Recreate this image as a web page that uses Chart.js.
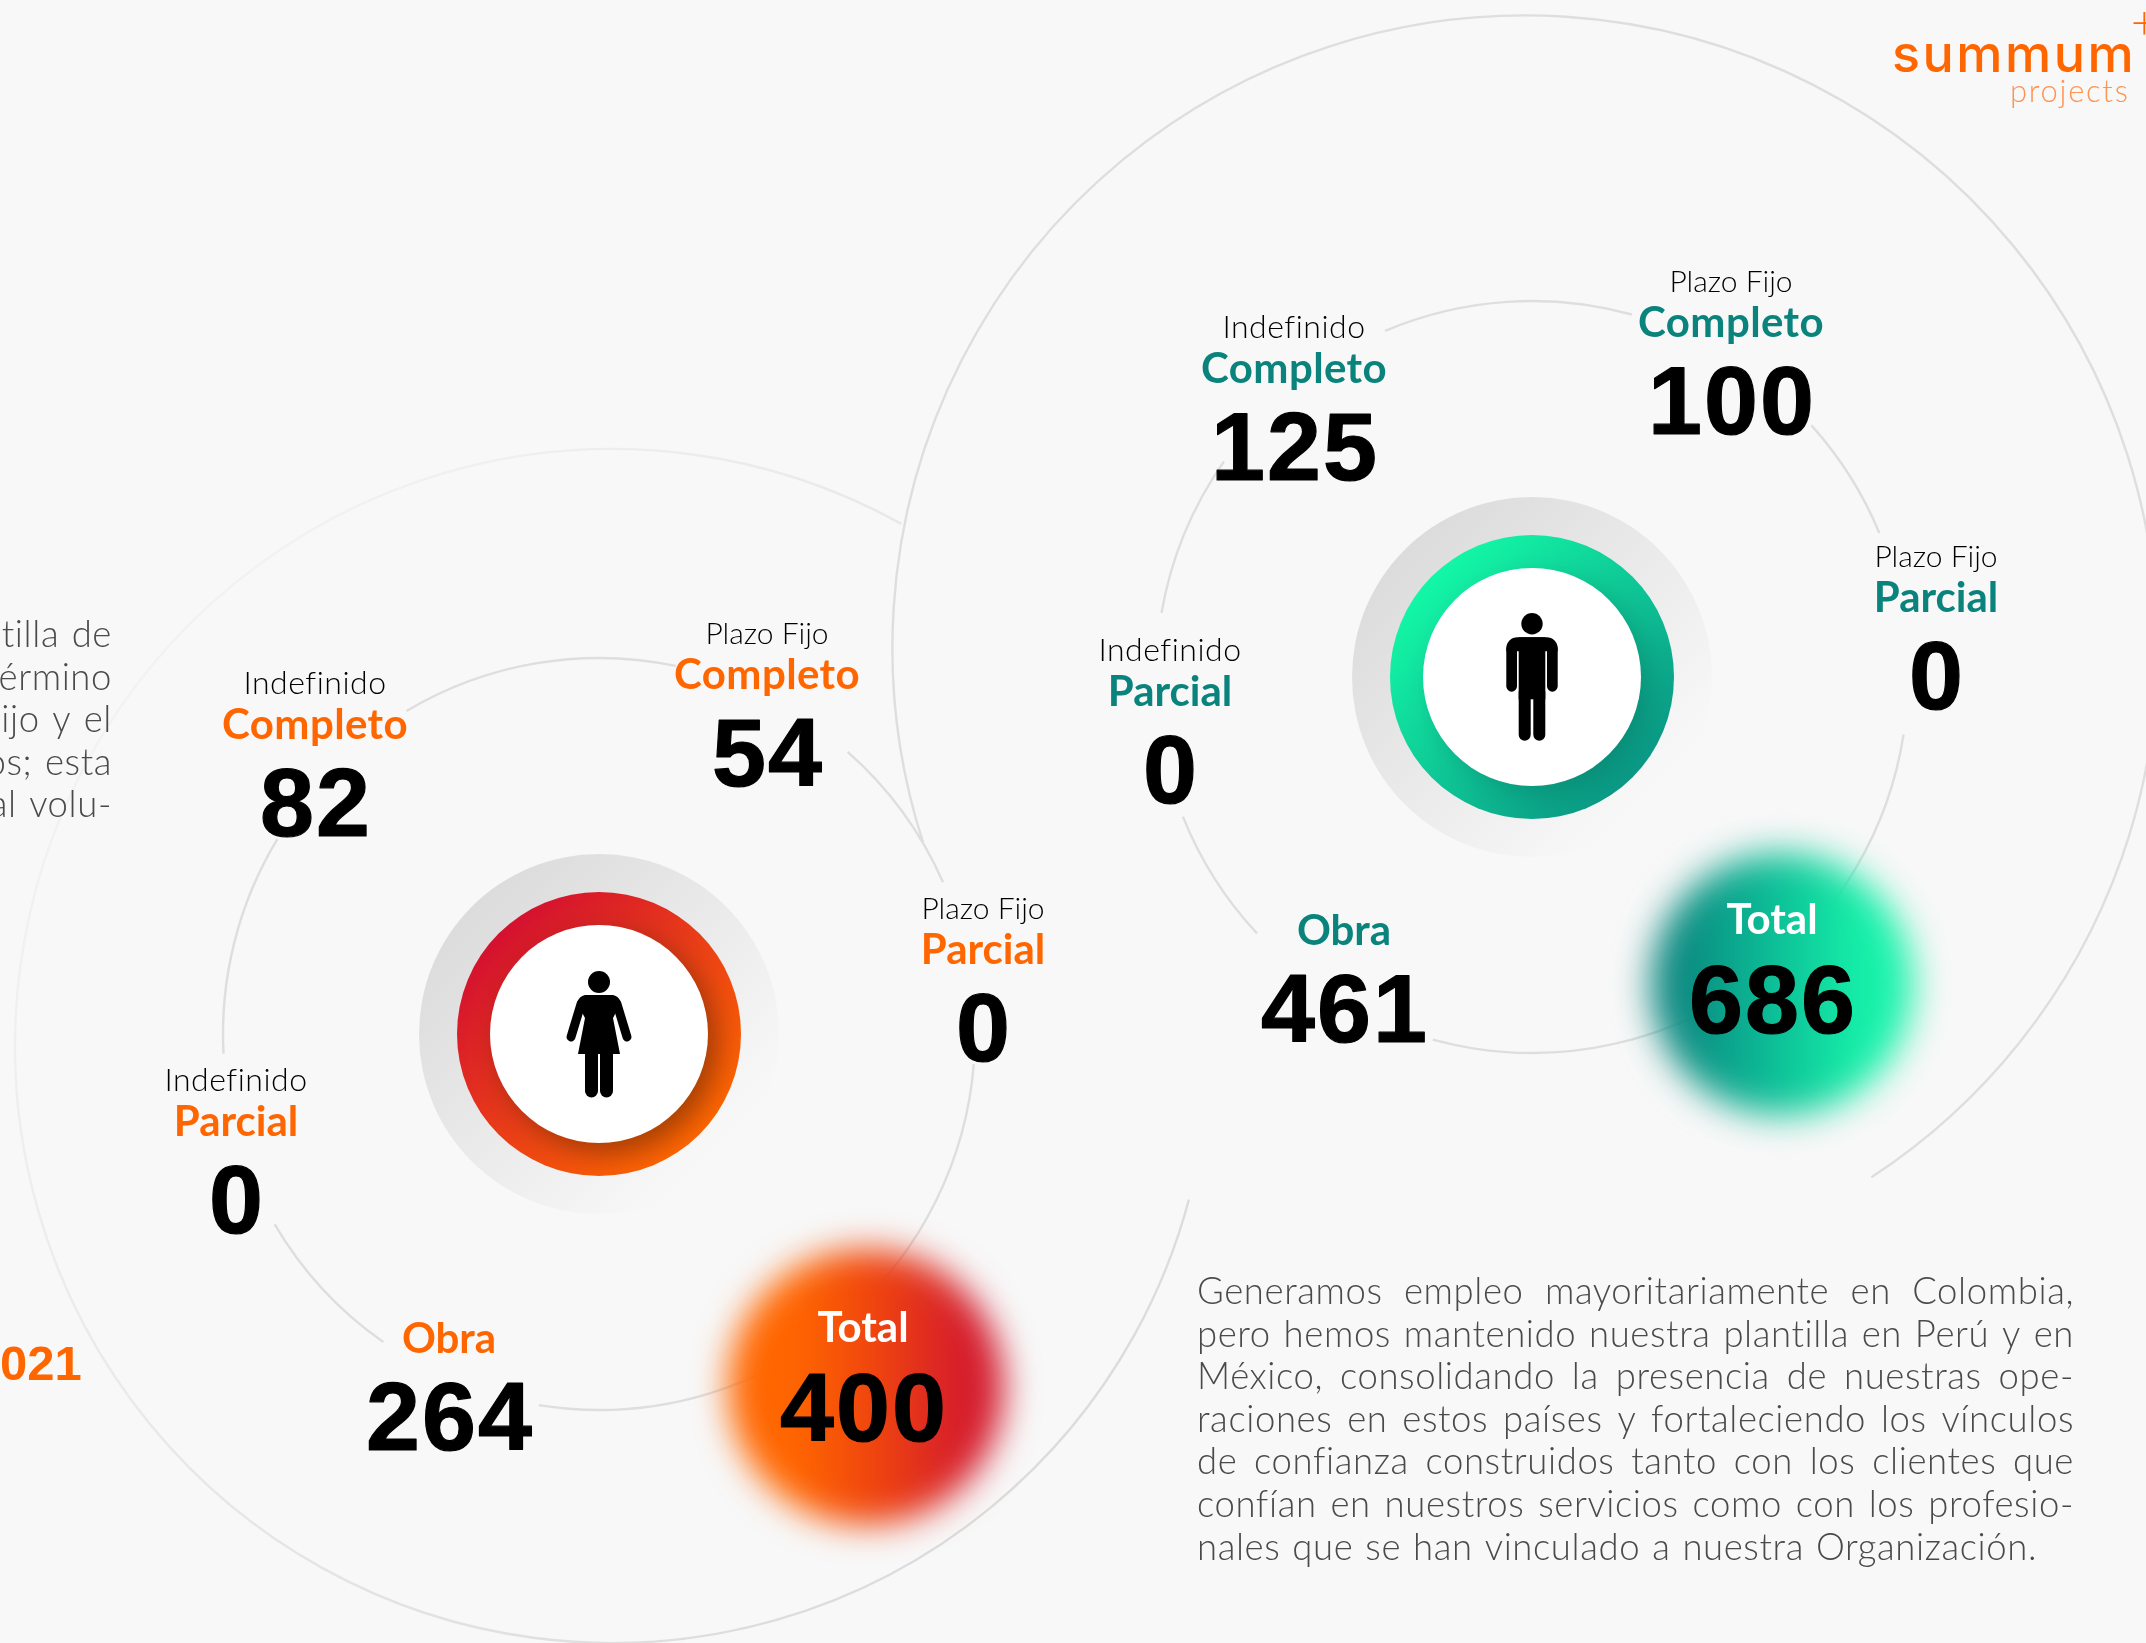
<!DOCTYPE html>
<html lang="es">
<head>
<meta charset="utf-8">
<title>Plantilla 2021</title>
<script src="https://cdn.jsdelivr.net/npm/chart.js@4"></script>
<style>
  html, body { margin: 0; padding: 0; background: #f8f8f8; overflow: hidden; }
  canvas { display: block; }
</style>
</head>
<body>
<canvas id="chart" width="2146" height="1643"></canvas>
<script>
// Data
const contractLabels = ['Indefinido', 'Plazo Fijo', 'Plazo Fijo', 'Indefinido', '', '']
const typeLabels = ['Completo', 'Completo', 'Parcial', 'Parcial', 'Obra', 'Total']
const womenValues = [82, 54, 0, 0, 264, 400]
const menValues = [125, 100, 0, 0, 461, 686]

const bodyLines = [
  'Generamos empleo mayoritariamente en Colombia,',
  'pero hemos mantenido nuestra plantilla en Perú y en',
  'México, consolidando la presencia de nuestras ope-',
  'raciones en estos países y fortaleciendo los vínculos',
  'de confianza construidos tanto con los clientes que',
  'confían en nuestros servicios como con los profesio-',
  'nales que se han vinculado a nuestra Organización.'
]
const leftLines = ['tilla de', 'érmino', 'fijo y el', 'os; esta', 'al volu-']

// Layout: where each group sits on the page, in page pixels (baseline of the number)
const womenAnchors = [[315, 836], [767, 786], [983, 1061], [236, 1233], [449, 1450], [863, 1441]]
const menAnchors = [[1294, 480], [1731, 434], [1936, 709], [1170, 803], [1344, 1042], [1772, 1033]]

const womenStyle = {
  center: [599, 1034], blob: [866, 1387], blobR: 138, blobBlur: 17, accent: '#ff6600',
  ringFrom: '#d4112f', ringTo: '#ff6600', shadow: 'rgba(60,30,0,0.45)',
  blobStops: [[0, '#ff6600'], [0.25, '#ff6600'], [0.55, '#ee4210'], [0.85, '#d41b2d'], [1, '#d41b2d']],
  arcs: [[-120.8, -78.2], [-48.6, -23.8], [4.6, 99.2], [125, 149.6], [177, 211.2]]
}
const menStyle = {
  center: [1532, 677], blob: [1782, 984], blobR: 131, blobBlur: 18, accent: '#0a837c',
  ringFrom: '#13f7a6', ringTo: '#0a9a86', shadow: 'rgba(0,50,50,0.22)',
  blobStops: [[0.12, '#0a857e'], [0.43, '#0cb895'], [0.78, '#16f0a8'], [1, '#1af5ac']],
  arcs: [[-113, -74.6], [-42, -22.5], [8.8, 105.3], [137, 158.2], [189.8, 215]]
}

const rad = d => d * Math.PI / 180
const LINE = '#dedede'
const LINE_WIDTH = 2.4
const NUM_FONT = '"Liberation Sans", Arial, sans-serif'
const TXT_FONT = 'Lato, "Open Sans", sans-serif'

function roundedLine(ctx, x1, y1, x2, y2, w) {
  ctx.lineWidth = w
  ctx.lineCap = 'round'
  ctx.strokeStyle = '#000'
  ctx.beginPath()
  ctx.moveTo(x1, y1)
  ctx.lineTo(x2, y2)
  ctx.stroke()
}

function drawWoman(ctx, cx, cy) {
  ctx.fillStyle = '#000'
  ctx.beginPath()
  ctx.arc(cx, cy - 52, 11, 0, Math.PI * 2)
  ctx.fill()
  // dress
  ctx.beginPath()
  ctx.moveTo(cx - 14, cy - 39)
  ctx.lineTo(cx + 14, cy - 39)
  ctx.quadraticCurveTo(cx + 20, cy - 38, cx + 22, cy - 31)
  ctx.lineTo(cx + 14, cy - 16)
  ctx.lineTo(cx + 21, cy + 20)
  ctx.lineTo(cx - 21, cy + 20)
  ctx.lineTo(cx - 14, cy - 16)
  ctx.lineTo(cx - 22, cy - 31)
  ctx.quadraticCurveTo(cx - 20, cy - 38, cx - 14, cy - 39)
  ctx.fill()
  // arms
  roundedLine(ctx, cx - 18, cy - 30, cx - 28, cy + 3, 9)
  roundedLine(ctx, cx + 18, cy - 30, cx + 28, cy + 3, 9)
  // legs
  roundedLine(ctx, cx - 7.5, cy + 18, cx - 7.5, cy + 57, 13)
  roundedLine(ctx, cx + 7.5, cy + 18, cx + 7.5, cy + 57, 13)
}

function drawMan(ctx, cx, cy) {
  ctx.fillStyle = '#000'
  ctx.beginPath()
  ctx.arc(cx, cy - 53.3, 10.7, 0, Math.PI * 2)
  ctx.fill()
  ctx.beginPath()
  ctx.roundRect(cx - 25.7, cy - 39.7, 51.4, 14, [11, 11, 0, 0])
  ctx.fill()
  ctx.fillRect(cx - 13.3, cy - 39.7, 26.6, 62)
  roundedLine(ctx, cx - 20.35, cy - 28, cx - 20.35, cy + 9.3, 10.7)
  roundedLine(ctx, cx + 20.35, cy - 28, cx + 20.35, cy + 9.3, 10.7)
  roundedLine(ctx, cx - 7.3, cy + 15, cx - 7.3, cy + 57.7, 12)
  roundedLine(ctx, cx + 7.3, cy + 15, cx + 7.3, cy + 57.7, 12)
}

function drawBadge(chart, s, person) {
  const { ctx, scales } = chart
  const cx = scales.x.getPixelForValue(s.center[0])
  const cy = scales.y.getPixelForValue(s.center[1])

  // connecting thin circle, broken around each label
  ctx.strokeStyle = LINE
  ctx.lineWidth = LINE_WIDTH
  ctx.lineCap = 'butt'
  s.arcs.forEach(a => {
    ctx.beginPath()
    ctx.arc(cx, cy, 376, rad(a[0]), rad(a[1]))
    ctx.stroke()
  })

  // soft grey disc
  let g = ctx.createLinearGradient(cx - 125, cy - 125, cx + 115, cy + 115)
  g.addColorStop(0, '#dcdcdc')
  g.addColorStop(1, '#f8f8f8')
  ctx.fillStyle = g
  ctx.beginPath()
  ctx.arc(cx, cy, 180, 0, Math.PI * 2)
  ctx.fill()

  // coloured ring
  g = ctx.createLinearGradient(cx - 100, cy - 100, cx + 100, cy + 100)
  g.addColorStop(0, s.ringFrom)
  g.addColorStop(1, s.ringTo)
  ctx.fillStyle = g
  ctx.beginPath()
  ctx.arc(cx, cy, 142, 0, Math.PI * 2)
  ctx.fill()

  // white disc throws a shadow on the ring only
  ctx.save()
  ctx.beginPath()
  ctx.arc(cx, cy, 142, 0, Math.PI * 2)
  ctx.clip()
  ctx.shadowColor = s.shadow
  ctx.shadowBlur = 28
  ctx.shadowOffsetX = 10
  ctx.shadowOffsetY = 10
  ctx.fillStyle = '#fff'
  ctx.beginPath()
  ctx.arc(cx, cy, 109, 0, Math.PI * 2)
  ctx.fill()
  ctx.restore()

  person(ctx, cx, cy)
}

function drawBlob(chart, s) {
  const { ctx, scales } = chart
  const bx = scales.x.getPixelForValue(s.blob[0])
  const by = scales.y.getPixelForValue(s.blob[1])
  const g = ctx.createLinearGradient(bx - 142, 0, bx + 142, 0)
  s.blobStops.forEach(stop => g.addColorStop(stop[0], stop[1]))
  ctx.save()
  ctx.filter = 'blur(' + s.blobBlur + 'px)'
  ctx.fillStyle = g
  ctx.beginPath()
  ctx.arc(bx, by, s.blobR, 0, Math.PI * 2)
  ctx.fill()
  ctx.restore()
}

const pagePlugin = {
  id: 'page',
  beforeDatasetsDraw(chart) {
    const { ctx, scales } = chart
    ctx.save()

    // big outer circles
    const womenX = scales.x.getPixelForValue(612)
    const womenY = scales.y.getPixelForValue(1046)
    let g = ctx.createLinearGradient(40, 800, 900, 1500)
    g.addColorStop(0, '#f2f2f2')
    g.addColorStop(1, '#dcdcdc')
    ctx.strokeStyle = g
    ctx.lineWidth = LINE_WIDTH
    ctx.beginPath()
    ctx.arc(womenX, womenY, 597, rad(-61), rad(14.9), true)
    ctx.stroke()

    ctx.strokeStyle = LINE
    ctx.beginPath()
    ctx.arc(scales.x.getPixelForValue(1525), scales.y.getPixelForValue(648), 632.6, rad(162.1), rad(416.8))
    ctx.stroke()

    drawBadge(chart, womenStyle, drawWoman)
    drawBadge(chart, menStyle, drawMan)
    drawBlob(chart, womenStyle)
    drawBlob(chart, menStyle)
    ctx.restore()
  },
  afterDatasetsDraw(chart) {
    const { ctx } = chart
    ctx.save()
    ctx.textBaseline = 'alphabetic'
    ctx.lineJoin = 'round'

    // labels follow the points of each dataset
    const styles = [womenStyle, menStyle]
    chart.data.datasets.forEach((ds, d) => {
      chart.getDatasetMeta(d).data.forEach((pt, i) => {
        ctx.textAlign = 'center'
        ctx.fillStyle = '#000'
        ctx.strokeStyle = '#000'
        ctx.lineWidth = 1.2
        ctx.font = 'bold 97px ' + NUM_FONT
        ctx.letterSpacing = '2px'
        ctx.fillText(String(ds.data[i].v), pt.x + 1, pt.y)
        ctx.strokeText(String(ds.data[i].v), pt.x + 1, pt.y)
        const total = typeLabels[i] === 'Total'
        ctx.fillStyle = total ? '#fff' : styles[d].accent
        ctx.font = 'bold 42px ' + TXT_FONT
        ctx.letterSpacing = typeLabels[i] === 'Completo' ? '0.4px' : '0px'
        ctx.fillText(typeLabels[i], pt.x, pt.y - (total ? 99 : 97))
        if (contractLabels[i]) {
          const plazo = contractLabels[i] === 'Plazo Fijo'
          ctx.fillStyle = '#000'
          ctx.font = (plazo ? '300 30px ' : '300 32px ') + TXT_FONT
          ctx.letterSpacing = plazo ? '0px' : '0.5px'
          ctx.fillText(contractLabels[i], pt.x, pt.y - 142)
        }
      })
    })

    // right paragraph, justified
    ctx.fillStyle = '#4a4a4a'
    ctx.textAlign = 'left'
    ctx.font = '300 36.5px ' + TXT_FONT
    ctx.letterSpacing = '0.6px'
    bodyLines.forEach((line, i) => {
      ctx.wordSpacing = '0px'
      const spaces = line.split(' ').length - 1
      const extra = i < bodyLines.length - 1 ? (877 - ctx.measureText(line).width) / spaces : 1.5
      ctx.wordSpacing = extra + 'px'
      ctx.fillText(line, 1197, 1304 + i * 42.6)
    })

    // left paragraph, cut by the page edge
    ctx.textAlign = 'right'
    ctx.wordSpacing = '2px'
    leftLines.forEach((line, i) => ctx.fillText(line, 112, 647 + i * 42.5))
    ctx.wordSpacing = '0px'
    ctx.letterSpacing = '0px'

    ctx.textAlign = 'left'
    ctx.fillStyle = '#ff6600'
    ctx.font = 'bold 49px ' + NUM_FONT
    ctx.fillText('021', 0, 1380)

    // logo
    ctx.font = '500 52px Inter, sans-serif'
    ctx.letterSpacing = '2.5px'
    ctx.fillText('summum', 1892, 71.7)
    ctx.letterSpacing = '0px'
    ctx.font = '300 46px ' + TXT_FONT
    ctx.fillText('+', 2131, 38)
    ctx.fillStyle = '#ff9350'
    ctx.font = '300 31px ' + TXT_FONT
    ctx.letterSpacing = '1.7px'
    ctx.fillText('projects', 2010, 101.7)
    ctx.letterSpacing = '0px'
    ctx.restore()
  }
}

const buildPoints = (anchors, values) => anchors.map((a, i) => ({ x: a[0], y: a[1], v: values[i] }))

new Chart(document.getElementById('chart'), {
  type: 'scatter',
  data: {
    datasets: [
      { label: 'Mujeres', data: buildPoints(womenAnchors, womenValues), pointRadius: 0 },
      { label: 'Hombres', data: buildPoints(menAnchors, menValues), pointRadius: 0 }
    ]
  },
  options: {
    responsive: false,
    animation: false,
    layout: { padding: 0 },
    plugins: { legend: { display: false }, tooltip: { enabled: false } },
    scales: {
      x: { type: 'linear', min: 0, max: 2146, display: false },
      y: { type: 'linear', min: 0, max: 1643, reverse: true, display: false }
    }
  },
  plugins: [pagePlugin]
})
</script>
</body>
</html>
